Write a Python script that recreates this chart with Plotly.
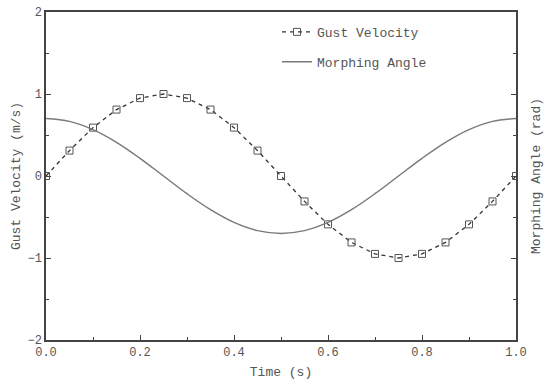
import plotly.graph_objects as go

time_pts = [0.0, 0.05, 0.1, 0.15, 0.2, 0.25, 0.3, 0.35, 0.4, 0.45, 0.5,
            0.55, 0.6, 0.65, 0.7, 0.75, 0.8, 0.85, 0.9, 0.95, 1.0]
gust_velocity = [0.0, 0.31, 0.59, 0.81, 0.95, 1.0, 0.95, 0.81, 0.59, 0.31, 0.0,
                 -0.31, -0.59, -0.81, -0.95, -1.0, -0.95, -0.81, -0.59, -0.31, 0.0]
morphing_angle = [0.70, 0.666, 0.566, 0.411, 0.216, 0.0, -0.216, -0.411, -0.566, -0.666, -0.70,
                  -0.666, -0.566, -0.411, -0.216, 0.0, 0.216, 0.411, 0.566, 0.666, 0.70]

FONT = "Liberation Mono"
AX = "#444444"
TXT = "#555555"

fig = go.Figure()
fig.add_trace(go.Scatter(
    x=time_pts, y=gust_velocity, name="Gust Velocity", legendgroup="g1",
    mode="lines+markers",
    line=dict(color="#333333", width=1.3, dash="4px,4px"),
    marker=dict(symbol="square-open", size=7, color="#555555", line=dict(width=1)),
))
fig.add_trace(go.Scatter(
    x=time_pts, y=morphing_angle, name="Morphing Angle", legendgroup="g2",
    mode="lines", yaxis="y2",
    line=dict(color="#7a7a7a", width=1.5, shape="spline"),
))

axis_common = dict(
    showline=True, linecolor=AX, linewidth=1.5,
    ticks="inside", ticklen=5, tickcolor=AX, tickwidth=1.2,
    showgrid=False, zeroline=False, automargin=False,
)
tickfont = dict(family=FONT, size=12, color=TXT)
titlefont = dict(family=FONT, size=13, color=TXT)

fig.update_layout(
    width=550, height=387,
    margin=dict(l=46, r=34, t=12, b=47, autoexpand=False),
    paper_bgcolor="white", plot_bgcolor="white",
    font=dict(family=FONT, color=TXT),
    xaxis=dict(range=[0, 1], tickvals=[0, 0.2, 0.4, 0.6, 0.8, 1.0],
               ticktext=["0.0", "0.2", "0.4", "0.6", "0.8", "1.0"],
               minor=dict(dtick=0.1, ticks="inside", ticklen=3, tickcolor=AX),
               mirror=True, tickfont=tickfont, ticklabeloverflow="allow",
               title=dict(text="Time (s)", font=titlefont, standoff=8),
               **axis_common),
    yaxis=dict(range=[-2, 2], tickvals=[-2, -1, 0, 1, 2],
               ticktext=["\u22122", "\u22121", "0", "1", "2"],
               minor=dict(dtick=0.5, ticks="inside", ticklen=3, tickcolor=AX),
               tickfont=tickfont, ticklabeloverflow="allow",
               title=dict(text="Gust Velocity (m/s)", font=titlefont, standoff=4),
               **axis_common),
    yaxis2=dict(range=[-2, 2], overlaying="y", side="right",
                tickvals=[-2, -1, 0, 1, 2], showticklabels=False,
                minor=dict(dtick=0.5, ticks="inside", ticklen=3, tickcolor=AX),
                title=dict(text="Morphing Angle (rad)", font=titlefont, standoff=14),
                **axis_common),
    legend=dict(x=0.4915, y=0.985, xanchor="left", yanchor="top",
                bgcolor="rgba(0,0,0,0)", traceorder="grouped", tracegroupgap=10,
                font=dict(family=FONT, size=13, color=TXT)),
    showlegend=True,
)

fig.write_html("out.html", config={"displayModeBar": False},
               post_script="document.body.style.margin='0';")
